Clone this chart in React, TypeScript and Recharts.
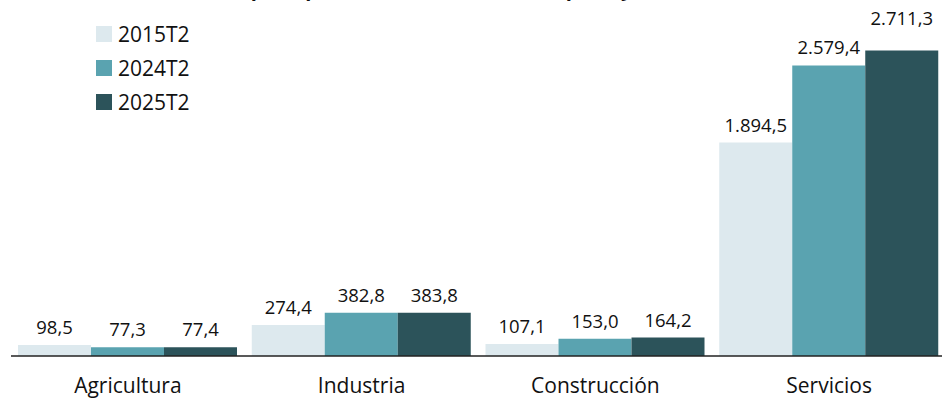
import { BarChart, Bar, XAxis, YAxis, LabelList } from "recharts";

const categories = ["Agricultura", "Industria", "Construcción", "Servicios"];
const serie2015 = [98.5, 274.4, 107.1, 1894.5];
const serie2024 = [77.3, 382.8, 153.0, 2579.4];
const serie2025 = [77.4, 383.8, 164.2, 2711.3];
const seriesNames = ["2015T2", "2024T2", "2025T2"];
const COLORS = ["#dde9ee", "#5aa3b0", "#2c535a"];

const FONT = "'Open Sans', sans-serif";

const data = categories.map((name, i) => ({
    name,
    s2015: serie2015[i],
    s2024: serie2024[i],
    s2025: serie2025[i],
}));

const maxValue = Math.max(...serie2015, ...serie2024, ...serie2025);

function fmt(v: number) {
    const [int, dec] = v.toFixed(1).split(".");
    return int.replace(/\B(?=(\d{3})+(?!\d))/g, ".") + "," + dec;
}

const renderLabel = (props: any) => {
    const { x, y, width, value } = props;
    // the tallest label sits a bit higher in the original
    const lift = value === maxValue ? 26 : 11;
    return (
        <text
            x={x + width / 2}
            y={y - lift}
            textAnchor="middle"
            fontFamily={FONT}
            fontSize={18.5}
            fill="#111"
        >
            {fmt(value)}
        </text>
    );
};

function LegendBox() {
    return (
        <div style={{ position: "absolute", left: 96, top: 17, fontFamily: FONT, fontSize: 21, color: "#111" }}>
            {seriesNames.map((n, i) => (
                <div key={n} style={{ display: "flex", alignItems: "center", height: 34 }}>
                    <span style={{ width: 16, height: 16, background: COLORS[i], marginRight: 6, display: "inline-block" }} />
                    <span>{n}</span>
                </div>
            ))}
        </div>
    );
}

export default function App() {
    return (
        <div style={{ position: "absolute", left: 0, top: 0, width: 942, height: 403, overflow: "hidden", background: "#fff" }}>
            <div
                style={{
                    position: "absolute",
                    left: 112,
                    top: -25,
                    fontFamily: FONT,
                    fontWeight: 700,
                    fontSize: 20,
                    whiteSpace: "nowrap",
                    color: "#111",
                }}
            >
                Población ocupada por sector de actividad, España y Galicia (miles)
            </div>
            <BarChart
                width={946}
                height={403}
                data={data}
                margin={{ top: 18, right: 0, bottom: 0, left: 11 }}
                barCategoryGap={7}
                barGap={0}
            >
                <XAxis
                    dataKey="name"
                    height={47}
                    tickLine={false}
                    axisLine={{ stroke: "#222", strokeWidth: 1.5 }}
                    tick={{ fontFamily: FONT, fontSize: 21, fill: "#111", dy: 14 }}
                />
                <YAxis hide domain={[0, 3000]} />
                <Bar dataKey="s2015" name={seriesNames[0]} fill={COLORS[0]} isAnimationActive={false}>
                    <LabelList dataKey="s2015" content={renderLabel} />
                </Bar>
                <Bar dataKey="s2024" name={seriesNames[1]} fill={COLORS[1]} isAnimationActive={false}>
                    <LabelList dataKey="s2024" content={renderLabel} />
                </Bar>
                <Bar dataKey="s2025" name={seriesNames[2]} fill={COLORS[2]} isAnimationActive={false}>
                    <LabelList dataKey="s2025" content={renderLabel} />
                </Bar>
            </BarChart>
            <LegendBox />
        </div>
    );
}
